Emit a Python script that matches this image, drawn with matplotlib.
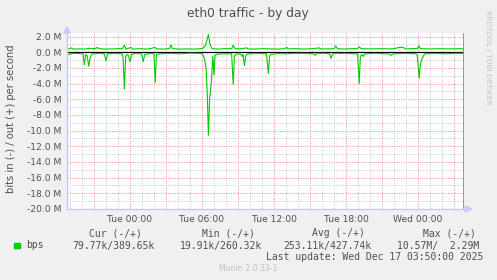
import matplotlib.pyplot as plt
from matplotlib.patches import Rectangle

# Zeit in Minuten ab Di 00:00, Werte in Mbit/s
t_in = [-315, -300, -290, -250, -235, -228, -222, -215, -206, -200, -192, -185,
        -150, -128, -120, -112, -75, -40, -35, -28, -22, -15, -8, 0, 8, 25,
        58, 66, 74, 100, 120, 126, 132, 150, 200, 250, 300, 350, 362, 372,
        380, 386, 392, 398, 404, 408, 414, 420, 425, 438, 460, 508, 516, 522,
        530, 550, 562, 565, 572, 578, 585, 625, 682, 692, 698, 705, 725, 730,
        775, 825, 875, 918, 926, 935, 975, 998, 1005, 1012, 1020, 1075, 1138,
        1146, 1152, 1160, 1166, 1175, 1225, 1292, 1305, 1318, 1375, 1430, 1436,
        1446, 1452, 1458, 1466, 1475, 1525, 1575, 1625, 1670]
in_mbps = [-0.15, -0.3, -0.15, -0.18, -0.2, -1.6, -0.3, -0.4, -1.8, -0.8, -0.3, -0.2,
           -0.15, -0.2, -1.1, -0.2, -0.15, -0.2, -0.5, -4.7, -0.6, -0.3, -0.4, -1.2, -0.3, -0.15,
           -0.2, -1.2, -0.3, -0.15, -0.2, -3.9, -0.3, -0.2, -0.15, -0.2, -0.12, -0.15, -0.2, -0.8,
           -2.0, -5.0, -10.6, -6.0, -4.6, -3.3, -0.55, -2.9, -0.4, -0.25, -0.2, -0.2, -4.1, -0.5,
           -0.25, -0.2, -0.55, -0.3, -1.7, -0.5, -0.25, -0.15, -0.2, -2.7, -0.5, -0.25, -0.25, -0.15,
           -0.2, -0.15, -0.15, -0.2, -0.4, -0.15, -0.15, -0.2, -0.8, -0.3, -0.15, -0.15, -0.2,
           -4.0, -0.5, -0.3, -0.55, -0.2, -0.15, -0.2, -0.4, -0.2, -0.15, -0.2, -0.4,
           -3.3, -1.5, -1.0, -0.5, -0.2, -0.15, -0.2, -0.15, -0.15]

t_out = [-315, -300, -292, -282, -250, -220, -210, -175, -164, -155, -120, -90,
         -60, -38, -28, -20, 5, 15, 50, 90, 125, 135, 175, 198, 205, 212, 250,
         290, 325, 355, 365, 378, 392, 400, 410, 440, 475, 508, 516, 525, 550,
         584, 590, 625, 660, 700, 740, 772, 784, 790, 825, 875, 910, 946, 955,
         1000, 1020, 1028, 1038, 1075, 1110, 1138, 1146, 1155, 1200, 1250, 1300,
         1320, 1335, 1355, 1370, 1380, 1410, 1438, 1445, 1452, 1500, 1550, 1600,
         1640, 1670]
out_mbps = [0.38, 0.45, 0.55, 0.4, 0.42, 0.4, 0.5, 0.45, 0.6, 0.45, 0.4, 0.42,
            0.45, 0.45, 0.9, 0.4, 0.6, 0.4, 0.45, 0.4, 0.6, 0.42, 0.4, 0.5, 0.93, 0.45, 0.4,
            0.42, 0.4, 0.45, 0.5, 0.9, 2.25, 1.0, 0.45, 0.4, 0.45, 0.45, 0.9, 0.45, 0.42,
            0.55, 0.42, 0.4, 0.45, 0.42, 0.4, 0.45, 0.62, 0.42, 0.45, 0.4, 0.45, 0.55, 0.42,
            0.42, 0.45, 0.8, 0.45, 0.4, 0.45, 0.45, 0.7, 0.45, 0.42, 0.45, 0.42,
            0.45, 0.55, 0.65, 0.55, 0.42, 0.45, 0.5, 0.8, 0.45, 0.42, 0.45, 0.42,
            0.45, 0.42]

x_ticks = [0, 360, 720, 1080, 1440]
x_labels = ["Tue 00:00", "Tue 06:00", "Tue 12:00", "Tue 18:00", "Wed 00:00"]
y_ticks = [2, 0, -2, -4, -6, -8, -10, -12, -14, -16, -18, -20]

headers = ["Cur (-/+)", "Min (-/+)", "Avg (-/+)", "Max (-/+)"]
values = ["79.77k/389.65k", "19.91k/260.32k", "253.11k/427.74k", "10.57M/  2.29M"]

W, H = 497, 280
fig = plt.figure(figsize=(W / 100, H / 100), dpi=100, facecolor='#F0F0F0')

def fx(x):
    return x / W

def fy(y):
    return 1 - y / H

ax = fig.add_axes([fx(67), fy(209), (464 - 67) / W, (209 - 33) / H])
ax.set_facecolor('white')
ax.set_xlim(-315, 1670)
ax.set_ylim(-20, 2.45)

# Gitter
for m in range(-300, 1670, 60):
    if m % 180 == 0:
        continue
    ax.axvline(m, color='#D0D0D0', lw=0.7, ls=(0, (1.2, 1.2)), zorder=1)
for m in range(-180, 1670, 180):
    ax.axvline(m, color='#F2A0A0', lw=0.7, ls=(0, (1.2, 1.2)), zorder=1)
for v in range(-19, 3):
    c = '#F2A0A0' if v % 2 == 0 else '#D0D0D0'
    ax.axhline(v, color=c, lw=0.7, ls=(0, (1.2, 1.2)), zorder=1)

ax.axhline(0, color='black', lw=0.9, zorder=3)
ax.plot(t_in, in_mbps, color='#00CC00', lw=0.8, zorder=4)
ax.plot(t_out, out_mbps, color='#00CC00', lw=0.8, zorder=4)
ax.axvline(1670, color='#888888', lw=1.2, zorder=5)

ax.set_xticks(x_ticks)
ax.set_xticklabels(x_labels)
ax.set_yticks(y_ticks)
ax.set_yticklabels([f"{v:.1f} M" for v in y_ticks])
ax.tick_params(length=0, pad=4, labelsize=6.6, colors='#505050')
for s in ax.spines.values():
    s.set_visible(False)

# Achsenpfeile
axis_col = '#C8C8FF'
fig.add_artist(plt.Line2D([fx(67), fx(67)], [fy(209), fy(30)], color=axis_col, lw=1))
fig.add_artist(plt.Line2D([fx(67), fx(468)], [fy(209), fy(209)], color=axis_col, lw=1))
fig.add_artist(plt.Polygon([[fx(64), fy(33)], [fx(70), fy(33)], [fx(67), fy(27)]],
                           color=axis_col, transform=fig.transFigure))
fig.add_artist(plt.Polygon([[fx(465), fy(206)], [fx(465), fy(212)], [fx(472), fy(209)]],
                           color=axis_col, transform=fig.transFigure))

txt = '#505050'
fig.text(fx(248), fy(14), "eth0 traffic - by day", ha='center', va='center',
         fontsize=8.8, color=txt)
fig.text(fx(11), fy(119), "bits in (-) / out (+) per second", rotation=90,
         ha='center', va='center', fontsize=7.2, color=txt)
fig.text(fx(488), fy(57), "RRDTOOL / TOBI OETIKER", rotation=270,
         ha='center', va='center', fontsize=5.3, color='#C0C0C0')

mono = 'DejaVu Sans Mono'
for x, h in zip([89, 201.5, 312.5, 423], headers):
    fig.text(fx(x), fy(233.5), h, ha='left', va='center', fontsize=7,
             family=mono, color=txt)
fig.add_artist(Rectangle((fx(14), fy(248)), 6 / W, 5.5 / H, color='#00CC00',
                         transform=fig.transFigure))
fig.text(fx(26.5), fy(245.5), "bps", ha='left', va='center', fontsize=7,
         family=mono, color=txt)
for x, v in zip([72.5, 180, 283, 397], values):
    fig.text(fx(x), fy(245.5), v, ha='left', va='center', fontsize=7,
             family=mono, color=txt)
fig.text(fx(483), fy(257.5), "Last update: Wed Dec 17 03:50:00 2025", ha='right',
         va='center', fontsize=7, family=mono, color=txt)
fig.text(fx(248), fy(268.5), "Munin 2.0.33-1", ha='center', va='center',
         fontsize=5.6, color='#C0C0C0')

fig.savefig("out.png", dpi=100, facecolor=fig.get_facecolor())
